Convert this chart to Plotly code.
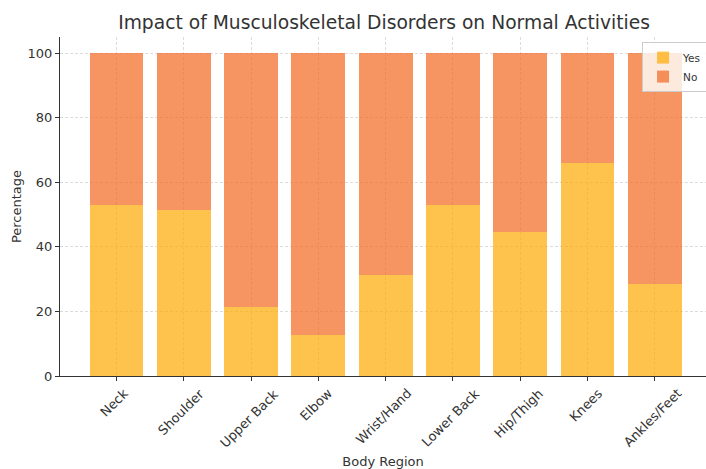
import plotly.graph_objects as go

categories = ["Neck", "Shoulder", "Upper Back", "Elbow", "Wrist/Hand",
              "Lower Back", "Hip/Thigh", "Knees", "Ankles/Feet"]
yes_values = [52.9, 51.4, 21.4, 12.7, 31.4, 52.9, 44.5, 65.9, 28.6]
no_values = [100 - v for v in yes_values]

font_family = "DejaVu Sans"

fig = go.Figure()
fig.add_trace(go.Bar(x=categories, y=yes_values, name="Yes",
                     marker=dict(color="rgba(254,170,0,0.7)", line=dict(width=0))))
fig.add_trace(go.Bar(x=categories, y=no_values, name="No",
                     marker=dict(color="rgba(242,102,32,0.7)", line=dict(width=0))))

# category labels centred under each tick (matplotlib-style rotated labels)
for cat in categories:
    fig.add_annotation(x=cat, y=0, xref="x", yref="paper", text=cat,
                       textangle=-45, xanchor="center", yanchor="top",
                       yshift=-7, xshift=-2, showarrow=False,
                       font=dict(size=13, color="#333333"))

fig.update_layout(
    barmode="stack",
    bargap=0.2,
    width=706, height=469,
    margin=dict(l=60, r=0, t=37, b=93, autoexpand=False),
    paper_bgcolor="white", plot_bgcolor="white",
    font=dict(family=font_family, color="#333333", size=13),
    title=dict(text="Impact of Musculoskeletal Disorders on Normal Activities",
               x=0.544, xanchor="center", y=0.953, yanchor="middle",
               font=dict(size=18.7, color="#333333")),
    legend=dict(x=0.901, y=0.985, xanchor="left", yanchor="top",
                traceorder="normal",
                bgcolor="rgba(255,255,255,0.8)", bordercolor="#cccccc", borderwidth=1,
                font=dict(size=10.5), itemwidth=30, tracegroupgap=0),
    showlegend=True,
)
fig.update_xaxes(
    range=[-0.84, 8.76],
    automargin=False,
    showticklabels=False,
    showgrid=True, gridcolor="#dcdcdc", griddash="3px,2px", gridwidth=1,
    showline=True, linecolor="#333333", linewidth=1.2,
    ticks="outside", ticklen=4, tickcolor="#333333",
    title=dict(text="Body Region", font=dict(size=13), standoff=78),
)
fig.update_yaxes(
    range=[0, 105],
    automargin=False,
    tickvals=[0, 20, 40, 60, 80, 100],
    tickfont=dict(size=13),
    showgrid=True, gridcolor="#dcdcdc", griddash="3px,2px", gridwidth=1,
    showline=True, linecolor="#333333", linewidth=1.2,
    ticks="outside", ticklen=4, tickcolor="#333333",
    zeroline=False,
    title=dict(text="Percentage", font=dict(size=13), standoff=2),
)

fig.write_html("out.html",
               config={"displayModeBar": False},
               post_script="document.body.style.margin='0';document.body.style.overflow='hidden';")
